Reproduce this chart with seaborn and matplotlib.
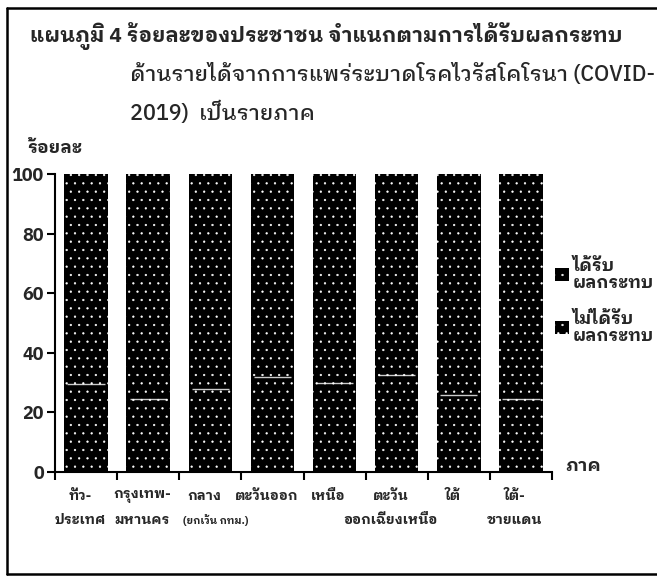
import matplotlib
matplotlib.use("Agg")
import numpy as np
import pandas as pd
import matplotlib.pyplot as plt
import seaborn as sns
from matplotlib.patches import Patch
from matplotlib.lines import Line2D

# ข้อมูล (อ่านจากภาพ)
regions = ["ทั่วประเทศ", "กรุงเทพมหานคร", "กลาง", "ตะวันออก", "เหนือ",
           "ตะวันออกเฉียงเหนือ", "ใต้", "ใต้ชายแดน"]
line1 = ["ทั่ว-", "กรุงเทพ-", "กลาง", "ตะวันออก", "เหนือ", "ตะวัน", "ใต้", "ใต้-"]
line2 = ["ประเทศ", "มหานคร", "(ยกเว้น กทม.)", "", "", "ออกเฉียงเหนือ", "", "ชายแดน"]
affected = [70.5, 75.5, 72.0, 68.0, 70.0, 67.5, 74.0, 75.5]
not_affected = [29.5, 24.5, 28.0, 32.0, 30.0, 32.5, 26.0, 24.5]
yticks = [0, 20, 40, 60, 80, 100]

THAI = ["IBM Plex Sans Thai Looped", "DejaVu Sans"]

sns.set_style("white")
plt.rcParams["font.family"] = THAI
plt.rcParams["hatch.color"] = "white"
plt.rcParams["hatch.linewidth"] = 0.4

df = pd.DataFrame({"region": regions,
                   "affected": affected,
                   "not_affected": not_affected})
df["total"] = df["affected"] + df["not_affected"]

fig = plt.figure(figsize=(6.57, 5.8), dpi=100)
ax = fig.add_axes([55 / 657, 1 - 472 / 580, (552 - 55) / 657, (472 - 174) / 580])

# แท่งซ้อน: ส่วนบน (ได้รับผลกระทบ) วาดเต็มก่อน แล้วทับด้วยส่วนล่าง
sns.barplot(data=df, x="region", y="total", color="black", width=0.7,
            saturation=1, ax=ax, hatch="..", edgecolor="white", linewidth=0)
sns.barplot(data=df, x="region", y="not_affected", color="black", width=0.7,
            saturation=1, ax=ax, hatch="..", edgecolor="white", linewidth=0)

# เส้นแบ่งระหว่างสองส่วน
for i, v in enumerate(not_affected):
    ax.hlines(v, i - 0.3, i + 0.3, color="white", lw=1.0, alpha=0.8, zorder=5)

ax.set_xlim(-0.5, 7.5)
ax.set_ylim(0, 100)
ax.set_yticks(yticks)
ax.set_yticklabels([str(t) for t in yticks], fontsize=13, fontweight="bold")
ax.set_xticks([])
ax.set_xticks(np.arange(-0.5, 8, 1), minor=True)
ax.tick_params(axis="x", which="minor", direction="out", length=6, width=1.5,
               color="black", bottom=True)
ax.tick_params(axis="y", direction="out", length=6, width=1.5, color="black",
               left=True, pad=2)
ax.set_xlabel("")
ax.set_ylabel("")
sns.despine(ax=ax)
for s in ["left", "bottom"]:
    ax.spines[s].set_linewidth(1.5)
    ax.spines[s].set_color("black")

# ป้ายหมวด (สองบรรทัด)
trans = ax.get_xaxis_transform()
for i in range(len(regions)):
    ax.text(i - 0.1, -0.082, line1[i], transform=trans, ha="center", va="center",
            fontsize=10, fontweight="bold")
    if line2[i]:
        if line2[i].startswith("("):
            ax.text(i + 0.08, -0.162, line2[i], transform=trans, ha="center",
                    va="center", fontsize=7.5, fontweight="bold")
        else:
            ax.text(i - 0.1, -0.162, line2[i], transform=trans, ha="center",
                    va="center", fontsize=10, fontweight="bold")

# ชื่อแผนภูมิ
fig.text(30 / 657, 1 - 36 / 580, "แผนภูมิ 4 ร้อยละของประชาชน จำแนกตามการได้รับผลกระทบ",
         ha="left", va="center", fontsize=15, fontweight="bold")
fig.text(130 / 657, 1 - 75 / 580, "ด้านรายได้จากการแพร่ระบาดโรคไวรัสโคโรนา (COVID-",
         ha="left", va="center", fontsize=15.5, fontweight="medium")
fig.text(130 / 657, 1 - 113 / 580, "2019)  เป็นรายภาค",
         ha="left", va="center", fontsize=15.5, fontweight="medium")

fig.text(27 / 657, 1 - 148 / 580, "ร้อยละ", ha="left", va="center",
         fontsize=13, fontweight="bold")
fig.text(565 / 657, 1 - 466 / 580, "ภาค", ha="left", va="center",
         fontsize=13, fontweight="bold")

# คำอธิบายสัญลักษณ์
handles = [Patch(facecolor="black", hatch="..", edgecolor="white", lw=0),
           Patch(facecolor="black", hatch="..", edgecolor="white", lw=0)]
labels = ["ได้รับ\nผลกระทบ", "ไม่ได้รับ\nผลกระทบ"]
fig.legend(handles, labels, loc="center left",
           bbox_to_anchor=(546 / 657, 1 - 301 / 580), frameon=False,
           handlelength=0.8, handleheight=0.8, handletextpad=0.25,
           labelspacing=1.1, borderpad=0,
           prop={"family": THAI, "weight": "bold", "size": 12.5})

# กรอบภาพ
fig.add_artist(Line2D([7 / 657, 7 / 657], [1 - 574 / 580, 1 - 8 / 580],
                      transform=fig.transFigure, color="black", lw=1.8))
fig.add_artist(Line2D([7 / 657, 1.0], [1 - 8 / 580, 1 - 8 / 580],
                      transform=fig.transFigure, color="black", lw=1.8))
fig.add_artist(Line2D([7 / 657, 1.0], [1 - 574 / 580, 1 - 574 / 580],
                      transform=fig.transFigure, color="black", lw=1.8))

fig.savefig("out.png", dpi=100)
